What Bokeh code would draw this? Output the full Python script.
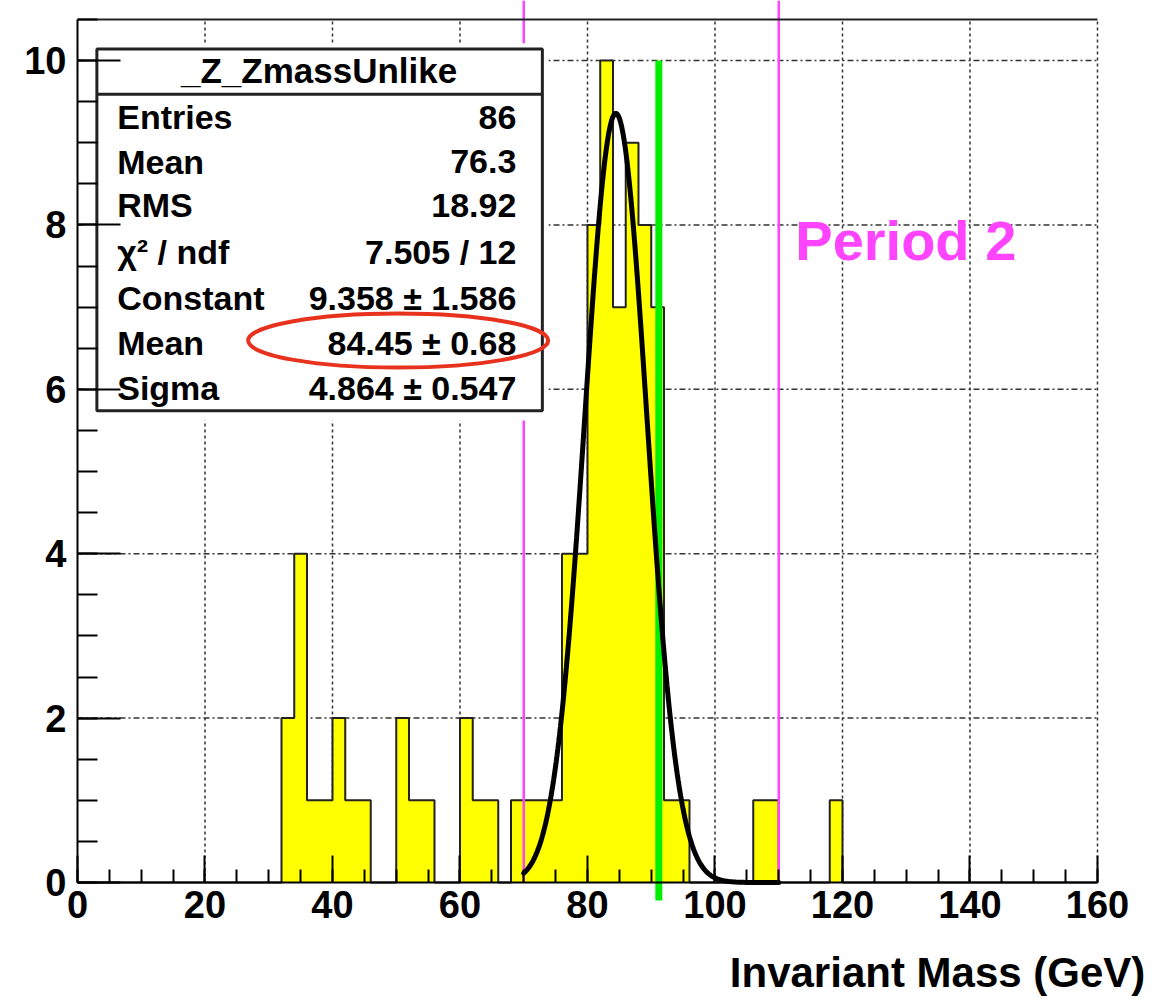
import numpy as np
from bokeh.plotting import figure
from bokeh.models import Range1d, FixedTicker, Label
from bokeh.embed import file_html
from bokeh.resources import INLINE

# ---------------- data ----------------
bin_width = 2
bin_low = [32, 34, 36, 38, 40, 42, 44, 50, 52, 54, 60, 62, 64, 68, 70, 72, 74,
           76, 78, 80, 82, 84, 86, 88, 90, 92, 94, 106, 108, 118]
counts = [2, 4, 1, 1, 2, 1, 1, 2, 1, 1, 2, 1, 1, 1, 1, 1, 1,
          4, 4, 8, 10, 7, 9, 8, 7, 1, 1, 1, 1, 1]

fit_const, fit_mean, fit_sigma = 9.358, 84.45, 4.864
fit_range = (70, 110)
period_edges = [70, 110]
z_mass = 91.19

x_ticks = [0, 20, 40, 60, 80, 100, 120, 140, 160]
y_ticks = [0, 2, 4, 6, 8, 10]

stat_title = "_Z_ZmassUnlike"
stat_names = ["Entries", "Mean", "RMS", "\u03c7\u00b2 / ndf", "Constant", "Mean", "Sigma"]
stat_values = ["86", "76.3", "18.92", "7.505 / 12", "9.358 \u00b1 1.586",
               "84.45 \u00b1 0.68", "4.864 \u00b1 0.547"]

# ---------------- figure ----------------
X_MAX = 160
Y_FRAME = 10.5
X_VIEW = (-12.078, 169.1)    # frame covers the whole canvas; axes sit at x=0 / y=0
Y_VIEW = (-1.4235, 10.731)

p = figure(width=1155, height=999, x_range=Range1d(*X_VIEW), y_range=Range1d(*Y_VIEW),
           output_backend="svg", toolbar_location=None,
           min_border_left=0, min_border_right=0, min_border_top=0, min_border_bottom=0)
p.outline_line_color = None
p.xgrid.visible = False
p.ygrid.visible = False
p.background_fill_color = "white"
p.border_fill_color = "white"

FONT = "Liberation Sans"

xa = p.xaxis[0]
xa.fixed_location = 0
xa.bounds = (0, X_MAX)
xa.ticker = FixedTicker(ticks=x_ticks, minor_ticks=list(range(0, 161, 5)))
xa.major_tick_in = 27
xa.major_tick_out = 0
xa.minor_tick_in = 13
xa.minor_tick_out = 0
xa.axis_line_width = 2
xa.major_tick_line_width = 2
xa.minor_tick_line_width = 2
xa.major_label_text_font = FONT
xa.major_label_text_font_style = "bold"
xa.major_label_text_font_size = "38px"
xa.major_label_text_color = "black"
xa.major_label_standoff = 8

ya = p.yaxis[0]
ya.fixed_location = 0
ya.ticker = FixedTicker(ticks=y_ticks, minor_ticks=list(np.arange(0, 10.51, 0.5)))
ya.bounds = (0, Y_FRAME)
ya.major_tick_in = 43
ya.major_tick_out = 0
ya.minor_tick_in = 20
ya.minor_tick_out = 0
ya.axis_line_width = 2
ya.major_tick_line_width = 2
ya.minor_tick_line_width = 2
ya.major_label_text_font = FONT
ya.major_label_text_font_style = "bold"
ya.major_label_text_font_size = "38px"
ya.major_label_text_color = "black"
ya.major_label_standoff = 11

# grid lines (manual, limited to the histogram frame)
vx = [t for t in x_ticks if t > 0]
p.segment(x0=vx, y0=[0] * len(vx), x1=vx, y1=[Y_FRAME] * len(vx),
          line_color="#333333", line_width=1.5, line_dash="3 3")
hy = [t for t in y_ticks if t > 0]
p.segment(x0=[0] * len(hy), y0=hy, x1=[X_MAX] * len(hy), y1=hy,
          line_color="#333333", line_width=1.5, line_dash="6 3 2 3")

# histogram fill
bin_high = [b + bin_width for b in bin_low]
p.quad(left=bin_low, right=bin_high, bottom=0, top=counts,
       fill_color="#ffff00", line_color="#ffff00", line_width=1)

# histogram outline (step contour)
edges = list(range(0, X_MAX + 1, bin_width))
full = [0] * (len(edges) - 1)
for b, c in zip(bin_low, counts):
    full[b // bin_width] = c
p.step(x=edges, y=full + [0], mode="after", line_color="#222222", line_width=2)

# period lines
p.segment(x0=period_edges, y0=[0, 0], x1=period_edges, y1=[Y_VIEW[1]] * 2,
          line_color="#ff44ff", line_width=2.5)

# Z mass line (pokes slightly below the axis, as in the original)
p.segment(x0=[z_mass], y0=[-0.22], x1=[z_mass], y1=[10], line_color="#00ee00", line_width=7)

# gaussian fit
fx = np.linspace(fit_range[0], fit_range[1], 300)
fy = fit_const * np.exp(-0.5 * ((fx - fit_mean) / fit_sigma) ** 2)
p.line(fx, fy, line_color="black", line_width=5, line_cap="round")

# top frame line
p.segment(x0=[0], y0=[Y_FRAME], x1=[X_MAX], y1=[Y_FRAME], line_color="#222222", line_width=2)

# stats box
p.quad(left=1.21, right=73.86, bottom=5.62, top=10.21, fill_color="white", line_color=None)
p.quad(left=3.04, right=72.92, bottom=5.74, top=10.14, fill_color="white",
       line_color="#222222", line_width=3)
p.segment(x0=[3.04], y0=[9.59], x1=[72.92], y1=[9.59], line_color="#222222", line_width=3)

p.ellipse(x=50.3, y=6.594, width=300, height=54, width_units="screen", height_units="screen",
          fill_color=None, line_color="#e8321e", line_width=4)

p.add_layout(Label(x=37.9, y=9.88, text=stat_title, text_font=FONT, text_font_style="bold",
                   text_font_size="35px", text_align="center", text_baseline="middle",
                   text_color="black"))
row_y = [9.31, 8.77, 8.24, 7.67, 7.11, 6.57, 6.02]
for name, val, ry in zip(stat_names, stat_values, row_y):
    p.add_layout(Label(x=6.23, y=ry, text=name, text_font=FONT, text_font_style="bold",
                       text_font_size="34px", text_align="left", text_baseline="middle",
                       text_color="black"))
    p.add_layout(Label(x=68.84, y=ry, text=val, text_font=FONT, text_font_style="bold",
                       text_font_size="34px", text_align="right", text_baseline="middle",
                       text_color="black"))

# Period 2 label
p.add_layout(Label(x=112.6, y=7.81, text="Period 2", text_font=FONT, text_font_style="bold",
                   text_font_size="56px", text_align="left", text_baseline="middle",
                   text_color="#ff44ff"))

# axis title
p.add_layout(Label(x=167.5, y=-1.095, text="Invariant Mass (GeV)", text_font=FONT,
                   text_font_style="bold", text_font_size="42px", text_align="right",
                   text_baseline="middle", text_color="black"))

open("out.html", "w").write(file_html(p, INLINE))
